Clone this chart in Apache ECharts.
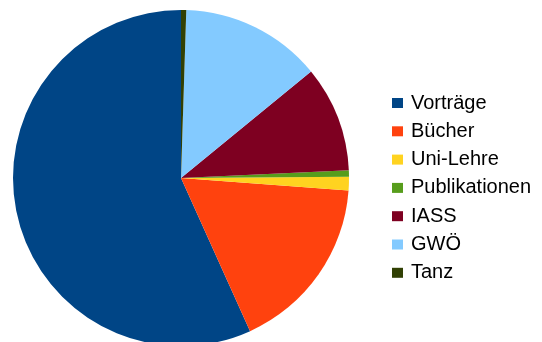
<!DOCTYPE html>
<html>
<head>
<meta charset="utf-8">
<script src="https://cdn.jsdelivr.net/npm/echarts@6/dist/echarts.min.js"></script>
<style>
html,body{margin:0;padding:0;background:#fff;}
#chart{width:542px;height:342px;}
</style>
</head>
<body>
<div id="chart"></div>
<script>
const categories = ["Vorträge", "Bücher", "Uni-Lehre", "Publikationen", "IASS", "GWÖ", "Tanz"];
const values = [56.8, 17.1, 1.3, 0.6, 10.2, 13.6, 0.5];
const colors = ["#004586", "#ff420e", "#ffd320", "#579d1c", "#7e0021", "#83caff", "#314004"];

const chart = echarts.init(document.getElementById('chart'), null, {renderer: 'canvas'});
chart.setOption({
  animation: false,
  color: colors,
  legend: {
    orient: 'vertical',
    left: 392,
    top: 93,
    padding: 0,
    itemWidth: 11,
    itemHeight: 10,
    itemGap: 8.3,
    icon: 'rect',
    data: categories,
    textStyle: {
      fontFamily: 'Liberation Sans',
      fontSize: 20,
      lineHeight: 20,
      color: '#000',
      padding: [0, 0, 0, 3]
    }
  },
  series: [{
    type: 'pie',
    center: [181, 178],
    radius: 168,
    startAngle: 90,
    clockwise: false,
    label: {show: false},
    labelLine: {show: false},
    emphasis: {disabled: true},
    itemStyle: {borderWidth: 0},
    data: categories.map((c, i) => ({name: c, value: values[i]}))
  }]
});
</script>
</body>
</html>
